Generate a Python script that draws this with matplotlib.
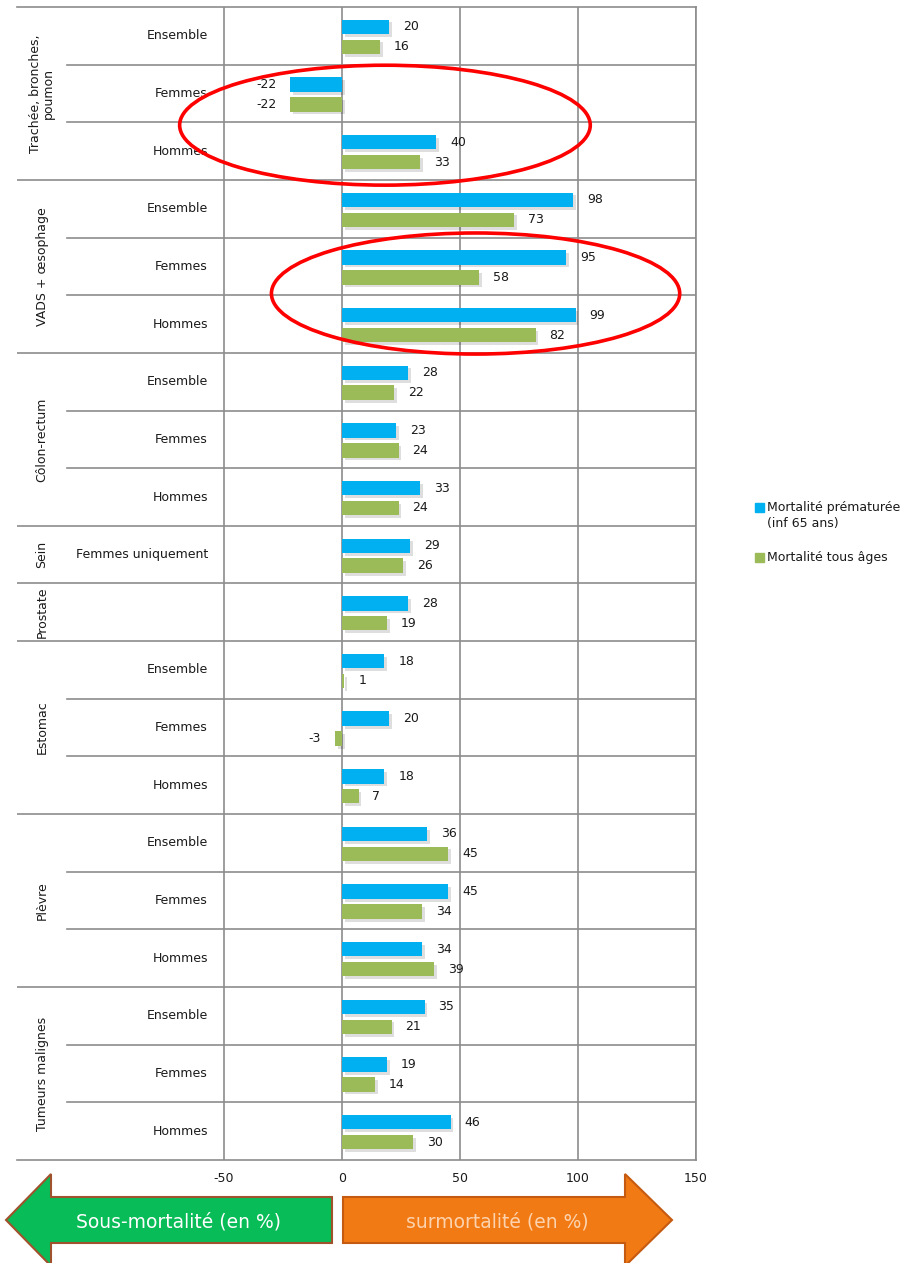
import matplotlib
matplotlib.use("Agg")
import matplotlib.pyplot as plt
from matplotlib.patches import Polygon, Ellipse, Rectangle
import matplotlib.patheffects as pe

plt.rcParams["axes.unicode_minus"] = False

# Données
groupes = ["Trachée, bronches,\npoumon", "VADS + œsophage", "Côlon-rectum", "Sein",
           "Prostate", "Estomac", "Plèvre", "Tumeurs malignes"]
taille_groupes = [3, 3, 3, 1, 1, 3, 3, 3]
lignes = ["Ensemble", "Femmes", "Hommes",
          "Ensemble", "Femmes", "Hommes",
          "Ensemble", "Femmes", "Hommes",
          "Femmes uniquement",
          "",
          "Ensemble", "Femmes", "Hommes",
          "Ensemble", "Femmes", "Hommes",
          "Ensemble", "Femmes", "Hommes"]
prematuree = [20, -22, 40, 98, 95, 99, 28, 23, 33, 29, 28, 18, 20, 18, 36, 45, 34, 35, 19, 46]
tous_ages = [16, -22, 33, 73, 58, 82, 22, 24, 24, 26, 19, 1, -3, 7, 45, 34, 39, 21, 14, 30]
xticks = [-50, 0, 50, 100, 150]
legende = ["Mortalité prématurée\n(inf 65 ans)", "Mortalité tous âges"]

BLEU = "#00B0F0"
VERT = "#9BBB59"
GRIS = "#8C8C8C"
TEXTE = "#1a1a1a"
W, H = 908, 1263

fig = plt.figure(figsize=(W / 100, H / 100), dpi=100)
ax = fig.add_axes([17 / W, 1 - 1160 / H, 679 / W, 1153 / H])

n = len(lignes)
y = list(range(n))
ombre = [pe.SimplePatchShadow(offset=(2, -2), shadow_rgbFace="black", alpha=0.13), pe.Normal()]

b1 = ax.barh([i - 0.155 for i in y], prematuree, height=0.25, color=BLEU, zorder=3)
b2 = ax.barh([i + 0.19 for i in y], tous_ages, height=0.25, color=VERT, zorder=3)
for b in list(b1) + list(b2):
    b.set_path_effects(ombre)

for i in y:
    for val, dy in ((prematuree[i], -0.155), (tous_ages[i], 0.19)):
        off = 10 if val >= 0 else -10
        ax.annotate(str(val), (val, i + dy), xytext=(off, 0), textcoords="offset points",
                    ha="left" if val >= 0 else "right", va="center", fontsize=9, color=TEXTE)

ax.set_xlim((17 - 342) / 2.36, 150)
ax.set_ylim(n - 0.5, -0.5)
ax.set_xticks(xticks)
ax.set_yticks([])
ax.tick_params(axis="x", length=0, pad=9, labelsize=9, colors=TEXTE)
ax.grid(axis="x", color=GRIS, lw=1.2, zorder=0)
for s in ("top", "bottom", "right"):
    ax.spines[s].set_color(GRIS)
    ax.spines[s].set_linewidth(1.2)
ax.spines["left"].set_visible(False)

# lignes horizontales et étiquettes
limites = []
debut = 0
for g, t in zip(groupes, taille_groupes):
    ax.text(0.037, debut + (t - 1) / 2, g, rotation=90, ha="center", va="center",
            fontsize=9, color=TEXTE, transform=ax.get_yaxis_transform(), linespacing=1.0)
    debut += t
    limites.append(debut - 0.5)
for i in range(n - 1):
    lim = i + 0.5
    xmin = 0 if lim in limites else 50 / 679
    ax.axhline(lim, xmin=xmin, color=GRIS, lw=1.2, zorder=1)
for i, lab in enumerate(lignes):
    ax.text(191 / 679, i, lab, ha="right", va="center", fontsize=9, color=TEXTE,
            transform=ax.get_yaxis_transform())

# ellipses rouges
for cx, cy, w, h in ((18.2, 1.55, 174, 2.08), (56.6, 4.47, 173, 2.1)):
    ax.add_patch(Ellipse((cx, cy), w, h, fill=False, ec="#FF0000", lw=2.6, zorder=5, clip_on=False))

# légende
for (ly, lab, col) in ((508, legende[0], BLEU), (558, legende[1], VERT)):
    fig.add_artist(Rectangle((755 / W, 1 - (ly + 4) / H), 9 / W, 9 / H, color=col,
                             transform=fig.transFigure))
    fig.text(767 / W, 1 - (ly - 7) / H, lab, ha="left", va="top", fontsize=9, color=TEXTE,
             linespacing=1.25)

# flèches
def px(pts):
    return [(x / W, 1 - yy / H) for x, yy in pts]

fleche_g = px([(6, 1220), (51, 1174), (51, 1197), (332, 1197), (332, 1243), (51, 1243), (51, 1266)])
fleche_d = px([(343, 1197), (625, 1197), (625, 1174), (672, 1220), (625, 1266), (625, 1243), (343, 1243)])
fig.add_artist(Polygon(fleche_g, closed=True, fc="#08BC57", ec="#A0522D", lw=1.5, transform=fig.transFigure))
fig.add_artist(Polygon(fleche_d, closed=True, fc="#F27A14", ec="#C55A11", lw=1.5, transform=fig.transFigure))
fig.text(178 / W, 1 - 1222 / H, "Sous-mortalité (en %)", ha="center", va="center", fontsize=13.5, color="white")
fig.text(497 / W, 1 - 1222 / H, "surmortalité (en %)", ha="center", va="center", fontsize=13.5, color="#FCD3AE")

fig.savefig("out.png", dpi=100)
